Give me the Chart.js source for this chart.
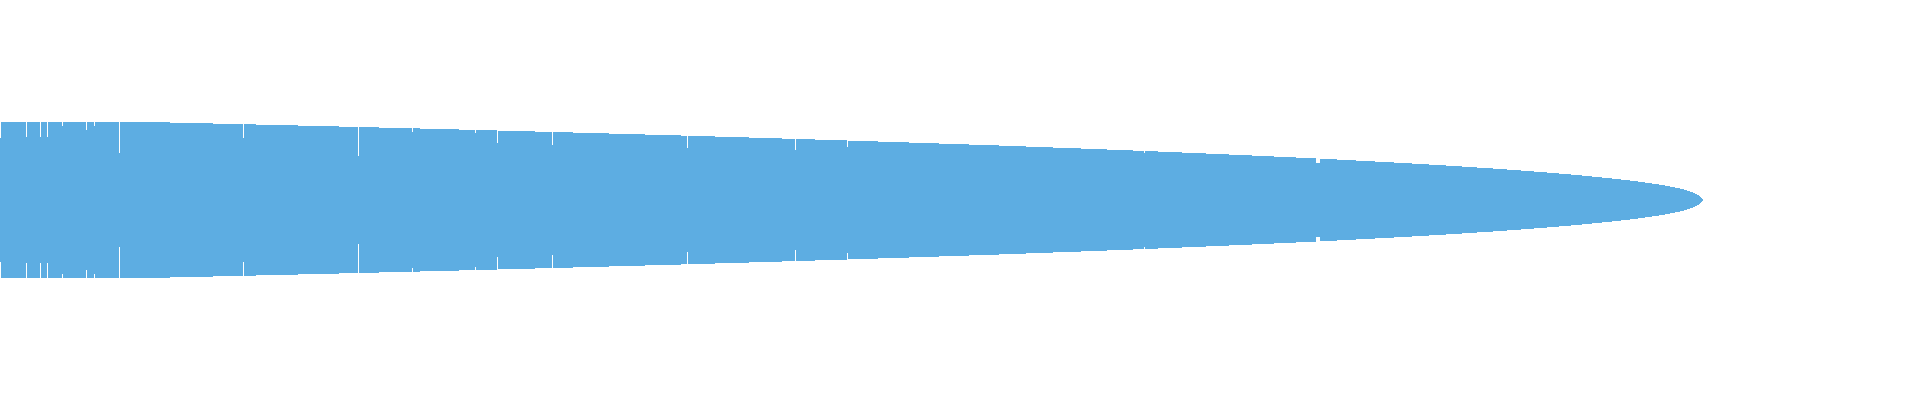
<!DOCTYPE html>
<html>
<head>
<meta charset="utf-8">
<title>Rank profile</title>
<script src="https://cdn.jsdelivr.net/npm/chart.js@4/dist/chart.umd.min.js"></script>
<style>
    html, body { margin: 0; padding: 0; background: #ffffff; overflow: hidden; }
    #profile-chart { display: block; }
</style>
</head>
<body>
<canvas id="profile-chart" width="1920" height="400"></canvas>
<script>
// rank where each step starts, and the half-width held from there on
const ranks = [0, 1, 26, 27, 40, 41, 47, 48, 62, 63, 86, 87, 94, 95, 119, 120, 170, 213, 243, 244,
    256, 298, 339, 358, 359, 379, 412, 413, 420, 459, 475, 476, 497, 498, 535, 552, 553, 573, 609, 645,
    681, 687, 688, 715, 749, 782, 795, 796, 815, 847, 848, 878, 909, 939, 969, 999, 1026, 1053, 1081, 1107,
    1133, 1144, 1145, 1158, 1182, 1206, 1229, 1252, 1274, 1296, 1316, 1320, 1337, 1356, 1375, 1394, 1412, 1429, 1446, 1462,
    1477, 1493, 1507, 1521, 1534, 1547, 1559, 1571, 1582, 1592, 1602, 1612, 1621, 1630, 1638, 1645, 1652, 1659, 1665, 1670,
    1675, 1680, 1684, 1687, 1690, 1693, 1695, 1697, 1699, 1700, 1701, 1702, 1703];
const halfWidths = [62, 78, 63, 78, 63, 78, 63, 78, 74, 78, 70, 78, 74, 78, 47, 78, 77, 76, 62, 76,
    75, 74, 73, 44, 73, 72, 68, 72, 71, 70, 67, 70, 57, 69, 68, 55, 68, 67, 66, 65,
    64, 52, 64, 63, 62, 61, 50, 61, 60, 53, 59, 58, 57, 56, 55, 54, 53, 52, 51, 50,
    49, 47, 49, 48, 47, 46, 45, 44, 43, 42, 37, 41, 40, 39, 38, 37, 36, 35, 34, 33,
    32, 31, 30, 29, 28, 27, 26, 25, 24, 23, 22, 21, 20, 19, 18, 17, 16, 15, 14, 13,
    12, 11, 10, 9, 8, 7, 6, 5, 4, 3, 2, 1, 0];
const rankMax = 1920;
const widthMax = 200;

document.addEventListener('DOMContentLoaded', function() {
    createProfileChart();
});

function createProfileChart() {
    const upper = ranks.map((r, i) => ({ x: r, y: halfWidths[i] }));
    const lower = ranks.map((r, i) => ({ x: r, y: -halfWidths[i] }));
    const ctx = document.getElementById('profile-chart').getContext('2d');
    new Chart(ctx, {
        type: 'line',
        data: {
            datasets: [{
                data: upper,
                stepped: true,
                fill: '+1',
                backgroundColor: '#5dade2',
                borderColor: 'rgba(0,0,0,0)',
                borderWidth: 0,
                pointRadius: 0
            }, {
                data: lower,
                stepped: true,
                fill: false,
                borderColor: 'rgba(0,0,0,0)',
                borderWidth: 0,
                pointRadius: 0
            }]
        },
        options: {
            responsive: false,
            animation: false,
            devicePixelRatio: 1,
            layout: { padding: 0 },
            scales: {
                x: { type: 'linear', min: 0, max: rankMax, display: false },
                y: { min: -widthMax, max: widthMax, display: false }
            },
            plugins: {
                legend: { display: false },
                tooltip: { enabled: false }
            }
        }
    });
}
</script>
</body>
</html>
